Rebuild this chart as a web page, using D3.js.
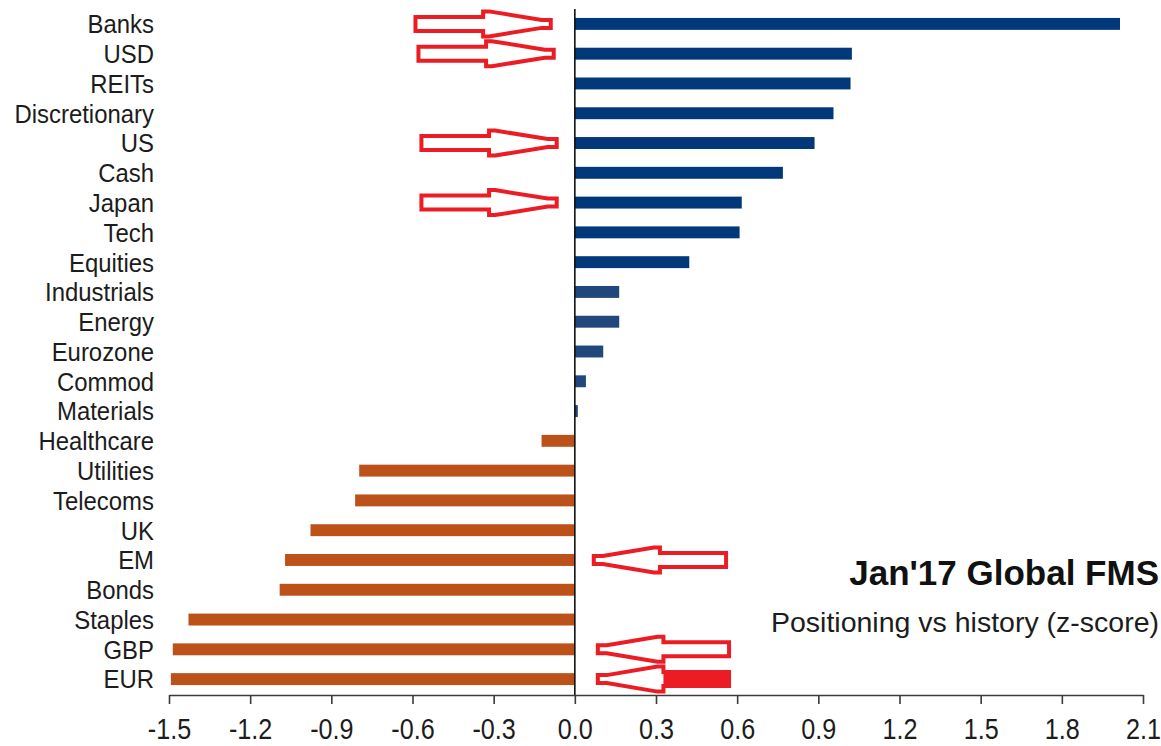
<!DOCTYPE html>
<html>
<head>
<meta charset="utf-8">
<script src="https://cdnjs.cloudflare.com/ajax/libs/d3/7.8.5/d3.min.js"></script>
<style>
  html, body { margin: 0; padding: 0; background: #fff; }
  svg { display: block; }
  .cat text { font-family: "Liberation Sans", Arial, sans-serif; font-size: 26px; fill: #1c1c1c; }
  .ticks-x text { font-family: "Liberation Sans", Arial, sans-serif; font-size: 30px; fill: #1c1c1c; }
  .ticks-x path, .ticks-x line { stroke: #3a3a3a; stroke-width: 1.6px; }
</style>
</head>
<body>
<div class="barchart"></div>
<script>
  // categories, top to bottom
  let categories = ['Banks', 'USD', 'REITs', 'Discretionary', 'US', 'Cash', 'Japan', 'Tech',
    'Equities', 'Industrials', 'Energy', 'Eurozone', 'Commod', 'Materials', 'Healthcare',
    'Utilities', 'Telecoms', 'UK', 'EM', 'Bonds', 'Staples', 'GBP', 'EUR'];

  // positioning vs history, z-score
  let zScores = [2.015, 1.024, 1.019, 0.956, 0.886, 0.769, 0.617, 0.609,
    0.423, 0.164, 0.164, 0.105, 0.041, 0.011, -0.123,
    -0.797, -0.812, -0.977, -1.071, -1.091, -1.428, -1.486, -1.493];

  let xTicks = [-1.5, -1.2, -0.9, -0.6, -0.3, 0.0, 0.3, 0.6, 0.9, 1.2, 1.5, 1.8, 2.1];

  let chartTitle = "Jan'17 Global FMS";
  let chartSubtitle = 'Positioning vs history (z-score)';

  // hand drawn call-out arrows: row, tail value, tip value
  let arrowRows = ['Banks', 'USD', 'US', 'Japan', 'EM', 'GBP', 'EUR'];
  let arrowTails = [-0.589, -0.578, -0.567, -0.567, 0.559, 0.570, 0.570];
  let arrowTips = [-0.089, -0.078, -0.067, -0.067, 0.070, 0.085, 0.085];
  let arrowSolidShaft = [false, false, false, false, false, false, true];

  let width = 1161;
  let height = 746;

  let x = d3.scaleLinear().domain([-1.5, 2.1]).range([169, 1143]);
  let y = d3.scaleBand().domain(categories).range([9, 694]).paddingInner(0.6).paddingOuter(0.3);
  let axisY = 695;

  let barColor = (v) => {
    if (v < 0) { return '#bc5119'; }
    if (v < 0.3) { return '#21487d'; }
    return '#00387a';
  };

  let svg = d3.select('.barchart')
    .append('svg')
    .attr('width', width)
    .attr('height', height);

  let data = categories.map((c, i) => { return {name: c, value: zScores[i]}; });

  // bars
  svg.append('g')
    .selectAll('rect')
    .data(data)
    .enter().append('rect')
    .attr('x', (d) => { return x(Math.min(0, d.value)); })
    .attr('y', (d) => { return y(d.name); })
    .attr('width', (d) => { return Math.abs(x(d.value) - x(0)); })
    .attr('height', y.bandwidth())
    .attr('fill', (d) => { return barColor(d.value); });

  // zero line
  svg.append('line')
    .attr('x1', x(0)).attr('x2', x(0))
    .attr('y1', 9).attr('y2', axisY)
    .attr('stroke', '#111')
    .attr('stroke-width', 1.6);

  // category labels (slightly condensed, like the source)
  let cat = svg.append('g').attr('class', 'cat');
  cat.selectAll('text')
    .data(categories)
    .enter().append('text')
    .attr('transform', (d) => {
      return 'translate(154,' + (y(d) + y.bandwidth() / 2) + ') scale(0.92,1)';
    })
    .attr('dy', '0.36em')
    .attr('text-anchor', 'end')
    .text((d) => { return d; });

  // x axis
  let xAxis = svg.append('g')
    .attr('class', 'ticks-x')
    .attr('transform', 'translate(0,' + axisY + ')')
    .call(d3.axisBottom(x)
      .tickValues(xTicks)
      .tickSize(9)
      .tickSizeOuter(0)
      .tickFormat((d) => { return d.toFixed(1); }));

  xAxis.selectAll('text')
    .attr('y', 44)
    .attr('dy', 0)
    .attr('transform', 'scale(0.84,1)');

  // call-out arrows
  let arrowPath = (len) => {
    let hx = len * 0.5;
    return 'M0,-7 H' + hx + ' V-12.5 H' + (hx + 6) +
      ' L' + (len - 9) + ',-4 H' + len + ' V4 H' + (len - 9) +
      ' L' + (hx + 6) + ',12.5 H' + hx + ' V7 H0 Z';
  };

  let arrows = arrowRows.map((r, i) => {
    return {row: r, tail: arrowTails[i], tip: arrowTips[i], solid: arrowSolidShaft[i]};
  });

  let arrowG = svg.append('g')
    .selectAll('g')
    .data(arrows)
    .enter().append('g')
    .attr('transform', (d) => {
      let cy = y(d.row) + y.bandwidth() / 2;
      let dir = d.tip > d.tail ? 1 : -1;
      return 'translate(' + x(d.tail) + ',' + cy + ') scale(' + dir + ',1)';
    });

  arrowG.append('path')
    .attr('d', (d) => { return arrowPath(Math.abs(x(d.tip) - x(d.tail))); })
    .attr('fill', '#fff')
    .attr('stroke', '#ec1c24')
    .attr('stroke-width', 4)
    .attr('stroke-linejoin', 'miter');

  arrowG.filter((d) => { return d.solid; })
    .append('rect')
    .attr('x', 0)
    .attr('y', -7)
    .attr('width', (d) => { return Math.abs(x(d.tip) - x(d.tail)) * 0.5; })
    .attr('height', 14)
    .attr('fill', '#ec1c24');

  // title block, right aligned to the edge
  svg.append('text')
    .attr('x', 1159)
    .attr('y', 585)
    .attr('text-anchor', 'end')
    .style('font-family', '"Liberation Sans", Arial, sans-serif')
    .style('font-weight', 'bold')
    .style('font-size', '35px')
    .style('fill', '#111')
    .text(chartTitle);

  svg.append('text')
    .attr('x', 1159)
    .attr('y', 632)
    .attr('text-anchor', 'end')
    .style('font-family', '"Liberation Sans", Arial, sans-serif')
    .style('font-size', '28.5px')
    .style('fill', '#1c1c1c')
    .text(chartSubtitle);
</script>
</body>
</html>
